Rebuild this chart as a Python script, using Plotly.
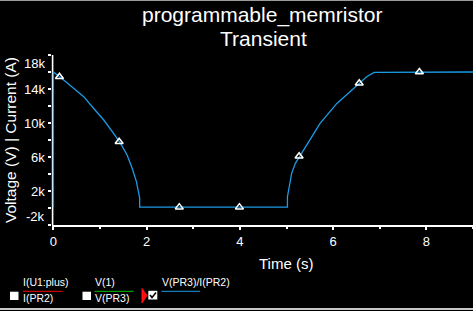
import plotly.graph_objects as go

# ---- data ----
time_s = [0, 0, 0.22, 0.44, 0.65, 0.86, 1.08, 1.29, 1.44, 1.58, 1.69, 1.78, 1.83, 1.85, 1.85,
          5.02, 5.02, 5.06, 5.11, 5.19, 5.28, 5.51, 5.72, 6.08, 6.36, 6.56, 6.72, 6.88, 9.0]
resistance = [100, 16000, 15060, 14080, 13100, 11730, 10350, 8780, 7610, 6240, 4670, 3100, 1920, 1200, 100,
              100, 1330, 2700, 4080, 5260, 6040, 8200, 9960, 12300, 13680, 14670, 15450, 15960, 16000]
marker_t = [0.13, 1.41, 2.70, 3.99, 5.27, 6.56, 7.85]
marker_r = [15450, 7800, 100, 100, 6080, 14670, 16000]

x_ticks = [0, 2, 4, 6, 8]
y_ticks = [-2000, 2000, 6000, 10000, 14000, 18000]
y_ticklabels = ["-2k", "2k", "6k", "10k", "14k", "18k"]

title_lines = ["programmable_memristor", "Transient"]
legend_top = ["I(U1:plus)", "V(1)", "V(PR3)/I(PR2)"]
legend_bottom = ["I(PR2)", "V(PR3)", ""]
legend_colors = ["#ff0000", "#00c000", "#1a9be6"]

FONT = "Liberation Sans, Arial, sans-serif"
W, H = 473, 311
L, R, T, B = 52, 0, 55, 86
PW, PH = W - L - R, H - T - B
X_MIN = -1.4 / 46.67   # so that t=0 falls just inside the plot area


def px(x):
    return (x - L) / PW


def py(y):
    return (T + PH - y) / PH


fig = go.Figure()
fig.add_trace(go.Scatter(x=time_s, y=resistance, mode="lines",
                         line=dict(color="#1a9be6", width=1.3), showlegend=False,
                         hoverinfo="skip"))
fig.add_trace(go.Scatter(x=marker_t, y=marker_r, mode="markers",
                         marker=dict(symbol="triangle-up-open", size=7,
                                     color="white", line=dict(color="white", width=1.5)),
                         showlegend=False, cliponaxis=False, hoverinfo="skip"))

ann = []
# titles
ann.append(dict(text=title_lines[0], xref="paper", yref="paper", x=px(262), y=py(15),
                xanchor="center", yanchor="middle", showarrow=False,
                font=dict(family=FONT, size=21, color="white")))
ann.append(dict(text=title_lines[1], xref="paper", yref="paper", x=px(263), y=py(39),
                xanchor="center", yanchor="middle", showarrow=False,
                font=dict(family=FONT, size=21, color="white")))
# y tick labels
for i, (v, lab) in enumerate(zip(y_ticks, y_ticklabels)):
    shift = 0
    if i == 0:
        shift = 9
    elif i == len(y_ticks) - 1:
        shift = -8
    ann.append(dict(text=lab, xref="paper", yref="y", x=px(53), y=v, xanchor="right",
                    yanchor="middle", xshift=-6, yshift=shift, showarrow=False,
                    font=dict(family=FONT, size=13, color="white")))
# axis titles
ann.append(dict(text="Voltage (V) | Current (A)", xref="paper", yref="paper",
                x=px(10), y=py(140), xanchor="center", yanchor="middle", textangle=-90,
                showarrow=False, font=dict(family=FONT, size=15.5, color="white")))
ann.append(dict(text="Time (s)", xref="paper", yref="paper", x=px(286), y=py(263),
                xanchor="center", yanchor="middle", showarrow=False,
                font=dict(family=FONT, size=15, color="white")))

shapes = []
# y axis line (drawn under the traces)
shapes.append(dict(type="line", xref="paper", yref="paper", x0=px(52.6), x1=px(52.6),
                   y0=0, y1=1, layer="below", line=dict(color="white", width=1.6)))
# legend
text_x = [23, 94.5, 161.5]
line_x1 = [62.5, 133.5, 200]
for i in range(3):
    ann.append(dict(text=legend_top[i], xref="paper", yref="paper", x=px(text_x[i] - 2), y=py(282),
                    xanchor="left", yanchor="middle", showarrow=False,
                    font=dict(family=FONT, size=10.5, color="white")))
    if legend_bottom[i]:
        ann.append(dict(text=legend_bottom[i], xref="paper", yref="paper", x=px(text_x[i] - 2),
                        y=py(297.5), xanchor="left", yanchor="middle", showarrow=False,
                        font=dict(family=FONT, size=10.5, color="white")))
    shapes.append(dict(type="line", xref="paper", yref="paper", x0=px(text_x[i]), x1=px(line_x1[i]),
                       y0=py(291.3), y1=py(291.3), line=dict(color=legend_colors[i], width=1)))
# white boxes
for x0 in [10, 82.5]:
    shapes.append(dict(type="rect", xref="paper", yref="paper", x0=px(x0), x1=px(x0 + 8.5),
                       y0=py(300), y1=py(291.7), fillcolor="white", line=dict(width=0)))
# checked box
shapes.append(dict(type="rect", xref="paper", yref="paper", x0=px(148.3), x1=px(157.3),
                   y0=py(299.5), y1=py(290.8), fillcolor="white", line=dict(width=0)))
shapes.append(dict(type="path", xref="paper", yref="paper",
                   path=f"M {px(150)},{py(295)} L {px(152)},{py(297.5)} L {px(156)},{py(292.5)}",
                   line=dict(color="black", width=1.6)))
# red selection marker
shapes.append(dict(type="path", xref="paper", yref="paper",
                   path=f"M {px(142)},{py(288.5)} L {px(147)},{py(295.5)} L {px(142)},{py(303)} Z",
                   fillcolor="#ff1010", line=dict(color="#ff1010", width=1)))
# window borders
shapes.append(dict(type="line", xref="paper", yref="paper", x0=px(0), x1=px(W),
                   y0=py(309), y1=py(309), line=dict(color="#c8c8c8", width=2)))
shapes.append(dict(type="line", xref="paper", yref="paper", x0=px(0), x1=px(W),
                   y0=py(0.5), y1=py(0.5), line=dict(color="#9a9a9a", width=1)))

fig.update_layout(
    width=W, height=H,
    margin=dict(l=L, r=R, t=T, b=B, pad=0),
    paper_bgcolor="black", plot_bgcolor="black",
    font=dict(family=FONT, color="white"),
    showlegend=False,
    annotations=ann, shapes=shapes,
    xaxis=dict(range=[X_MIN, 9], tickvals=x_ticks, ticktext=[str(v) for v in x_ticks],
               showline=True, linecolor="white", linewidth=2, ticks="outside",
               ticklen=3, tickwidth=1.5, tickcolor="white",
               minor=dict(dtick=1, tick0=0, ticks="outside", ticklen=2, tickcolor="white", tickwidth=1.5),
               tickfont=dict(family=FONT, size=13, color="white"),
               showgrid=False, zeroline=False, layer="below traces", fixedrange=True),
    yaxis=dict(range=[-2000, 18000], tickvals=y_ticks, showticklabels=False,
               showline=False, ticks="outside",
               ticklen=3, tickwidth=1.5, tickcolor="white",
               minor=dict(dtick=2000, tick0=0, ticks="outside", ticklen=3, tickcolor="white", tickwidth=1.5),
               showgrid=False, zeroline=False, layer="below traces", fixedrange=True),
)

fig.write_html("out.html")
